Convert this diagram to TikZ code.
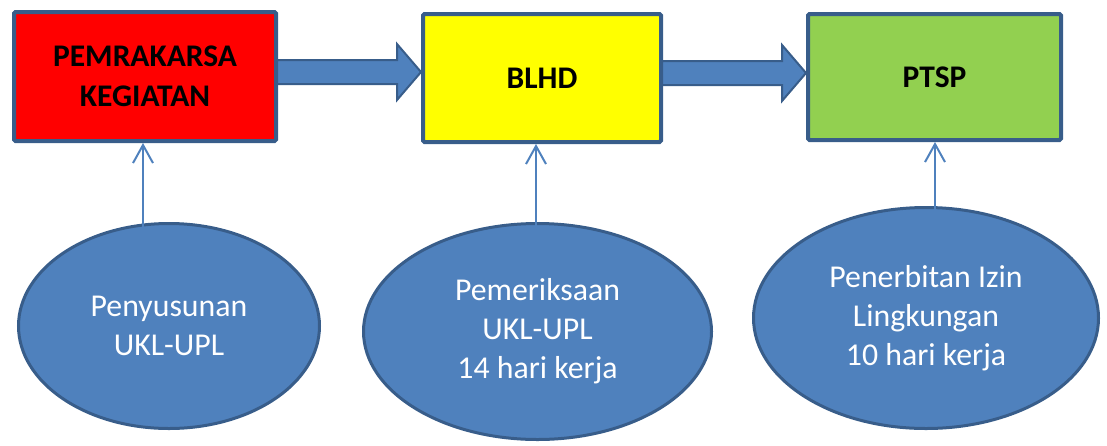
\documentclass[tikz,border=0pt]{standalone}
\usepackage{fontspec}
\setmainfont{Carlito}
\usetikzlibrary{shapes.geometric,arrows.meta,calc}
\definecolor{bord}{RGB}{56,93,138}
\definecolor{fillblue}{RGB}{79,129,189}
\definecolor{boxred}{RGB}{255,0,0}
\definecolor{boxyellow}{RGB}{255,255,0}
\definecolor{boxgreen}{RGB}{146,208,80}
\tikzset{
  stagebox/.style={draw=bord, line width=4pt, rounded corners=1.5pt, align=center,
    inner sep=0pt, font=\fontsize{31.5}{40}\selectfont\bfseries, text=black},
  taskoval/.style={ellipse, draw=bord, fill=fillblue, line width=3pt, inner sep=0pt,
    align=center, text=white, font=\fontsize{31.8}{39}\selectfont},
  blockarr/.style={draw=bord, fill=fillblue, line width=2pt, line join=miter},
  conn/.style={draw=fillblue, line width=2pt,
    -{Straight Barb[length=18pt,width=20pt,line width=2pt]}},
}
\begin{document}
\begin{tikzpicture}[x=1pt,y=-1pt]
\useasboundingbox (0,0) rectangle (1107,445);

% stage boxes
\node[stagebox, fill=boxred, minimum width=262pt, minimum height=129pt] (b1) at (145,76.5)
  {PEMRAKARSA\\KEGIATAN};
\node[stagebox, fill=boxyellow, minimum width=238pt, minimum height=128pt] (b2) at (542,78)
  {BLHD};
\node[stagebox, fill=boxgreen, minimum width=253pt, minimum height=126pt] (b3) at (934.5,77)
  {PTSP};

% block arrows between stages
\coordinate (t1) at (b2.west |- 0,72);
\coordinate (t2) at (b3.west |- 0,73);
\draw[blockarr] ($(b1.east |- t1)+(-1,-12)$) -- ($(t1)+(-24,-12)$) -- ($(t1)+(-24,-28)$)
  -- (t1) -- ($(t1)+(-24,28)$) -- ($(t1)+(-24,12)$) -- ($(b1.east |- t1)+(-1,12)$) -- cycle;
\draw[blockarr] ($(b2.east |- t2)+(-1,-12)$) -- ($(t2)+(-24,-12)$) -- ($(t2)+(-24,-28)$)
  -- (t2) -- ($(t2)+(-24,28)$) -- ($(t2)+(-24,12)$) -- ($(b2.east |- t2)+(-1,12)$) -- cycle;

% task ovals
\node[taskoval, minimum width=301pt, minimum height=205pt] (e1) at (169,326)
  {Penyusunan\\UKL-UPL};
\node[taskoval, minimum width=348pt, minimum height=216pt] (e2) at (537.5,331.5)
  {Pemeriksaan\\UKL-UPL\\14 hari kerja};
\node[taskoval, minimum width=345pt, minimum height=221pt] (e3) at (926,318)
  {Penerbitan Izin\\Lingkungan\\10 hari kerja};

% connectors from ovals up to boxes
\coordinate (c1) at (143,262);
\coordinate (c2) at (536,262);
\coordinate (c3) at (935,263);
\draw[conn] (c1) -- (c1 |- b1.south);
\draw[conn] (c2) -- (c2 |- b2.south);
\draw[conn] (c3) -- (c3 |- b3.south);
\end{tikzpicture}
\end{document}
